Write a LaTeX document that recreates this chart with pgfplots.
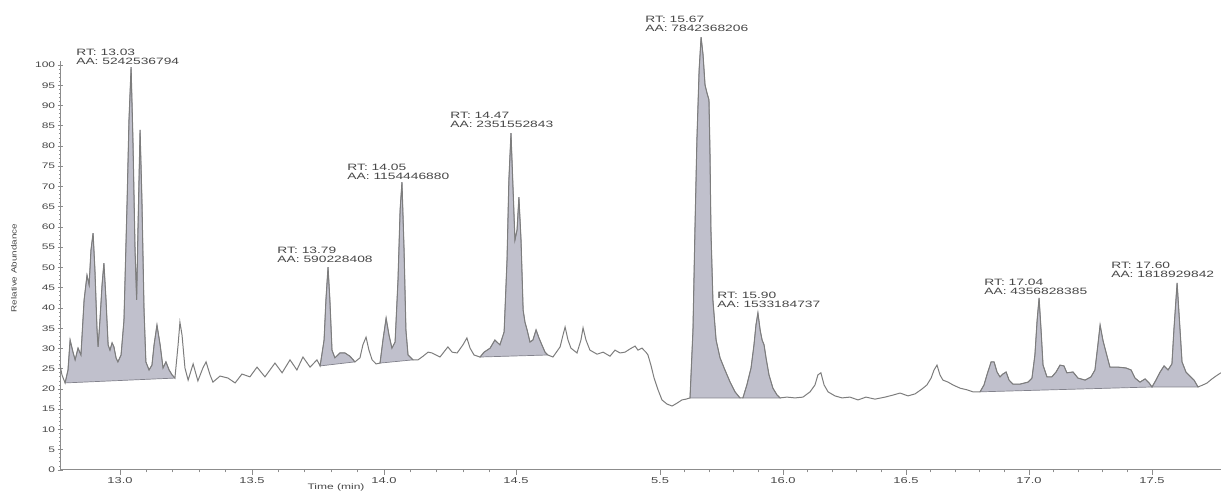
\documentclass[border=0pt]{standalone}
\usepackage{fontspec}
\setmainfont{Liberation Sans}
\usepackage{graphicx}
\usepackage{pgfplots}
\pgfplotsset{compat=1.18}
\usepackage{pgfplotstable}

\definecolor{peakfill}{RGB}{192,192,204}
\definecolor{peakedge}{RGB}{130,130,140}
\definecolor{trace}{RGB}{125,125,125}
\definecolor{axgray}{RGB}{140,140,140}
\definecolor{txt}{RGB}{70,70,70}
\newcommand{\st}[1]{\scalebox{1.5}[1]{#1}}

\pgfplotstableread{
t v
12.773 25.9
12.780 23.5
12.792 21.5
12.803 24.7
12.811 32.1
12.822 29.1
12.830 27.2
12.841 30.1
12.852 28.4
12.864 42.0
12.875 48.1
12.883 45.7
12.890 54.3
12.898 58.5
12.905 49.4
12.913 34.6
12.917 30.4
12.924 37.0
12.932 45.7
12.939 51.1
12.947 42.0
12.955 30.9
12.962 29.6
12.970 31.4
12.977 30.4
12.985 27.7
12.992 26.7
13.004 28.4
13.015 37.0
13.027 66.7
13.034 86.4
13.042 99.5
13.049 81.5
13.057 54.3
13.063 42.0
13.068 59.3
13.076 84.0
13.083 66.7
13.091 39.5
13.098 26.7
13.110 24.7
13.121 25.9
13.129 30.9
13.140 35.8
13.152 30.9
13.163 25.2
13.174 26.7
13.186 24.7
13.197 23.5
13.208 22.7
13.220 30.9
13.227 36.5
13.235 33.3
13.246 25.2
13.258 22.2
13.277 26.2
13.295 22.0
13.314 25.2
13.326 26.7
13.341 23.5
13.352 21.7
13.379 23.2
13.409 22.7
13.436 21.5
13.462 23.7
13.492 23.0
13.519 25.4
13.549 23.0
13.587 26.4
13.614 24.0
13.644 27.2
13.670 24.7
13.693 27.9
13.720 25.4
13.746 27.2
13.758 25.7
13.773 32.1
13.780 42.0
13.788 50.1
13.795 42.0
13.803 29.6
13.814 27.7
13.833 28.9
13.852 28.9
13.871 28.1
13.890 26.7
13.909 27.7
13.920 30.9
13.932 32.8
13.943 29.6
13.955 27.2
13.970 26.2
13.985 26.4
13.996 32.1
14.008 37.5
14.019 33.3
14.030 30.1
14.042 31.6
14.053 46.9
14.061 64.2
14.068 71.1
14.076 54.3
14.083 34.6
14.091 28.4
14.110 27.2
14.129 27.2
14.148 28.1
14.167 29.1
14.182 28.9
14.212 27.9
14.242 30.4
14.258 29.1
14.277 28.9
14.299 30.9
14.314 32.6
14.326 30.1
14.341 28.4
14.364 27.9
14.379 29.1
14.402 30.1
14.420 32.1
14.439 30.9
14.455 34.1
14.466 51.9
14.473 71.6
14.481 83.2
14.489 69.1
14.496 56.8
14.504 59.3
14.511 67.4
14.519 56.8
14.527 39.5
14.534 36.5
14.542 34.6
14.553 31.6
14.564 32.1
14.576 34.6
14.587 32.6
14.598 30.9
14.610 29.1
14.621 28.4
14.640 27.9
14.667 30.4
14.678 33.3
14.686 35.3
14.697 32.1
14.708 30.1
14.731 28.9
14.746 32.1
14.754 35.1
14.765 32.1
14.780 29.6
14.807 28.6
14.830 29.1
14.856 28.1
14.875 29.6
14.894 28.9
14.913 29.1
14.932 29.9
14.951 30.6
14.962 29.6
14.977 30.1
14.992 29.1
15.000 28.4
}\leftdata

\pgfplotstableread{
t v
15.451 28.4
15.463 25.9
15.476 22.7
15.492 19.8
15.508 17.3
15.528 16.3
15.549 15.8
15.569 16.5
15.589 17.3
15.606 17.5
15.622 17.8
15.634 34.6
15.642 59.3
15.650 81.5
15.659 98.8
15.667 106.9
15.675 102.5
15.683 95.1
15.691 93.1
15.699 91.4
15.703 79.0
15.707 59.3
15.715 42.0
15.728 32.1
15.744 27.7
15.764 24.7
15.785 21.7
15.805 19.3
15.825 17.8
15.837 17.8
15.853 21.0
15.870 25.2
15.882 30.9
15.890 35.8
15.898 38.8
15.907 34.6
15.915 32.1
15.923 30.9
15.931 27.7
15.943 23.5
15.959 20.2
15.976 18.5
15.988 17.8
16.016 18.0
16.049 17.8
16.081 18.0
16.110 19.3
16.130 21.0
16.142 23.5
16.154 24.0
16.167 21.0
16.183 19.3
16.211 18.3
16.240 17.8
16.272 18.0
16.305 17.3
16.337 18.0
16.374 17.5
16.415 18.0
16.447 18.5
16.476 19.0
16.508 18.3
16.537 18.8
16.565 20.0
16.585 21.0
16.602 22.7
16.614 24.7
16.626 25.9
16.638 23.5
16.650 22.2
16.671 21.7
16.691 21.0
16.720 20.2
16.748 19.8
16.772 19.3
16.801 19.3
16.817 21.0
16.829 23.5
16.846 26.7
16.858 26.7
16.870 24.2
16.882 23.0
16.894 23.7
16.907 24.2
16.919 22.2
16.935 21.2
16.963 21.2
16.996 21.7
17.012 22.7
17.024 28.4
17.033 37.0
17.041 42.5
17.049 34.6
17.057 25.9
17.073 23.0
17.093 23.0
17.110 24.2
17.126 25.9
17.142 25.7
17.154 24.0
17.179 24.2
17.199 22.7
17.228 22.2
17.252 23.0
17.268 24.7
17.280 30.9
17.289 35.8
17.301 31.9
17.313 29.1
17.329 25.4
17.362 25.4
17.394 25.2
17.415 24.7
17.431 22.7
17.451 21.7
17.472 22.5
17.488 21.5
17.500 20.5
17.516 22.2
17.533 24.2
17.549 25.7
17.565 24.7
17.581 26.2
17.589 34.6
17.602 46.2
17.614 34.6
17.622 26.7
17.638 24.2
17.654 23.2
17.671 22.2
17.687 20.5
17.707 21.0
17.724 21.5
17.744 22.5
17.760 23.2
17.780 24.0
}\rightdata

\tikzset{
  anno/.style={anchor=south west, align=left, inner sep=0pt, text=txt,
    font=\fontsize{4.6}{4.5}\selectfont},
}
\pgfplotsset{
  chromo/.style={
    scale only axis, height=204.5pt, ymin=0, ymax=101, clip=false,
    axis x line=bottom,
    tick align=outside, major tick length=2.5pt, minor tick length=1.2pt,
    minor x tick num=4,
    xticklabel style={font=\fontsize{4.3}{5}\selectfont, text=txt, inner sep=1pt},
    every axis plot/.append style={mark=none},
  },
  fillpk/.style={fill=peakfill, draw=peakedge, line width=0.35pt},
  curve/.style={draw=trace, line width=0.5pt},
}

\begin{document}
\begin{tikzpicture}
\path[use as bounding box] (0pt,0pt) rectangle (610.5pt,246pt);

\begin{axis}[chromo, at={(30pt,11pt)}, anchor=south west, width=294pt,
  xmin=12.7727, xmax=15.0,
  axis y line=left,
  axis line style={draw=axgray, line width=0.5pt, -},
  x axis line style={-}, y axis line style={-},
  every tick/.style={draw=axgray, line width=0.4pt},
  ytick={0,5,...,100}, minor y tick num=4,
  yticklabel style={font=\fontsize{4.0}{4}\selectfont, text=txt, inner sep=1pt},
  yticklabel={\scalebox{1.5}[1]{\pgfmathprintnumber[assume math mode=true]{\tick}}},
  xtick={13,13.5,14,14.5},
  xticklabels={\st{13.0},\st{13.5},\st{14.0},\st{14.5}}]
\addplot[fillpk, restrict x to domain=12.79:13.21] table[x=t,y=v] {\leftdata} -- cycle;
\addplot[fillpk, restrict x to domain=13.755:13.892] table[x=t,y=v] {\leftdata} -- cycle;
\addplot[fillpk, restrict x to domain=13.98:14.112] table[x=t,y=v] {\leftdata} -- cycle;
\addplot[fillpk, restrict x to domain=14.36:14.625] table[x=t,y=v] {\leftdata} -- cycle;
\addplot[curve] table[x=t,y=v] {\leftdata};
\node[anno] at (axis cs:12.833,100.0) {\st{RT: 13.03}\\\st{AA: 5242536794}};
\node[anno] at (axis cs:13.595,51.0) {\st{RT: 13.79}\\\st{AA: 590228408}};
\node[anno] at (axis cs:13.860,71.5) {\st{RT: 14.05}\\\st{AA: 1154446880}};
\node[anno] at (axis cs:14.250,84.4) {\st{RT: 14.47}\\\st{AA: 2351552843}};
\end{axis}

\begin{axis}[chromo, at={(324pt,11pt)}, anchor=south west, width=286.5pt,
  xmin=15.4512, xmax=17.7805,
  axis y line=none,
  axis line style={draw=axgray, line width=0.5pt, -},
  x axis line style={-},
  every tick/.style={draw=axgray, line width=0.4pt},
  xtick={15.5,16,16.5,17,17.5},
  xticklabels={\st{5.5},\st{16.0},\st{16.5},\st{17.0},\st{17.5}}]
\addplot[fillpk, restrict x to domain=15.62:15.83] table[x=t,y=v] {\rightdata} -- cycle;
\addplot[fillpk, restrict x to domain=15.835:15.99] table[x=t,y=v] {\rightdata} -- cycle;
\addplot[fillpk, restrict x to domain=16.80:17.502] table[x=t,y=v] {\rightdata} -- cycle;
\addplot[fillpk, restrict x to domain=17.499:17.69] table[x=t,y=v] {\rightdata} -- cycle;
\addplot[curve] table[x=t,y=v] {\rightdata};
\node[anno] at (axis cs:15.439,108.1) {\st{RT: 15.67}\\\st{AA: 7842368206}};
\node[anno] at (axis cs:15.732,39.9) {\st{RT: 15.90}\\\st{AA: 1533184737}};
\node[anno] at (axis cs:16.817,43.1) {\st{RT: 17.04}\\\st{AA: 4356828385}};
\node[anno] at (axis cs:17.333,47.3) {\st{RT: 17.60}\\\st{AA: 1818929842}};
\end{axis}

\node[rotate=90, text=txt, font=\fontsize{3.8}{4}\selectfont, inner sep=0pt] at (7pt,112pt) {\scalebox{1.3}[1]{Relative Abundance}};
\node[text=txt, font=\fontsize{4.0}{4.5}\selectfont, inner sep=0pt, anchor=south] at (168pt,0.3pt) {\st{Time (min)}};
\end{tikzpicture}
\end{document}
